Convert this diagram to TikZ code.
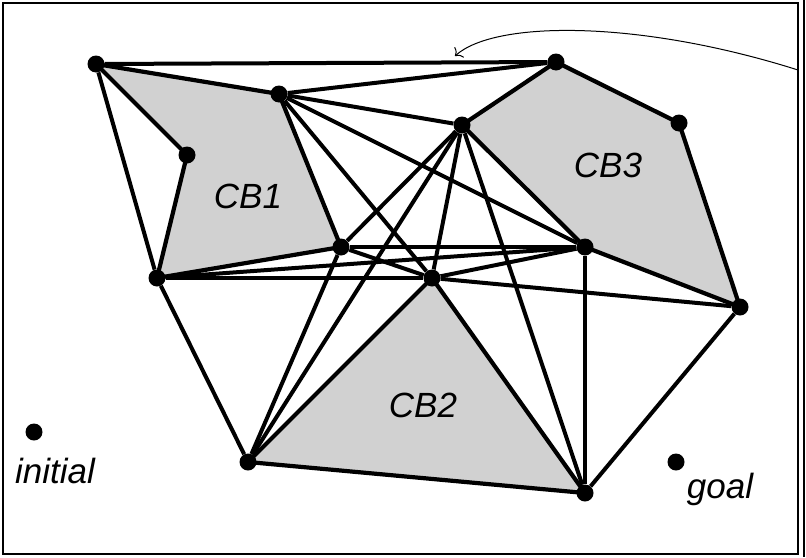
\documentclass[tikz,border=0pt]{standalone}
\usepackage{fontspec}
\setmainfont{Liberation Sans}
\usetikzlibrary{arrows.meta,backgrounds}
\tikzstyle{vertex} = [circle, fill=black, inner sep=0pt, minimum size=17pt]
\tikzstyle{obstacle} = [fill=black!18, draw=black, line width=4.2pt, line join=round]
\tikzstyle{link} = [line width=4pt]
\tikzstyle{cbtext} = [font=\fontsize{35}{42}\selectfont\itshape, anchor=base, inner sep=0pt]
\tikzstyle{frame} = [line width=1.4pt]
\tikzstyle{pointer} = [line width=1pt,-{To[length=6pt,width=14pt]}]
\begin{document}
\begin{tikzpicture}[x=1pt,y=-1pt]
\useasboundingbox (0,0) rectangle (806,557);
% CB1 corners
\node (p1a) [vertex] at (96,64) {};
\node (p1b) [vertex] at (279,94) {};
\node (p1c) [vertex] at (341,247) {};
\node (p1d) [vertex] at (157,278) {};
\node (p1e) [vertex] at (187,155) {};
% CB2 corners
\node (p2a) [vertex] at (432,278) {};
\node (p2b) [vertex] at (585,493) {};
\node (p2c) [vertex] at (248,462) {};
% CB3 corners
\node (p3a) [vertex] at (462,125) {};
\node (p3b) [vertex] at (556,62) {};
\node (p3c) [vertex] at (679,123) {};
\node (p3d) [vertex] at (740,307) {};
\node (p3e) [vertex] at (585,247) {};
\node (init) [vertex] at (34,432) {};
\node (goal) [vertex] at (676,462) {};

\node (tOne)   [cbtext] at (248,208) {CB1};
\node (tTwo)   [cbtext] at (423,417) {CB2};
\node (tThree) [cbtext] at (608,177) {CB3};
\node (tInit)  [cbtext] at (55,483) {initial};
\node (tGoal)  [cbtext] at (720,498) {goal};

\begin{scope}[on background layer]
\draw [obstacle] (p1a.center) -- (p1b.center) -- (p1c.center) -- (p1d.center) -- (p1e.center) -- cycle;
\draw [obstacle] (p2a.center) -- (p2b.center) -- (p2c.center) -- cycle;
\draw [obstacle] (p3a.center) -- (p3b.center) -- (p3c.center) -- (p3d.center) -- (p3e.center) -- cycle;

\draw [link] (p1a) -- (p3b);
\draw [link] (p1a) -- (p1d);
\draw [link] (p1b) -- (p3b);
\draw [link] (p1b) -- (p3a);
\draw [link] (p1b) -- (p3e);
\draw [link] (p1b) -- (p2a);
\draw [link] (p3a) -- (p1c);
\draw [link] (p3a) -- (p2c);
\draw [link] (p3a) -- (p2a);
\draw [link] (p3a) -- (p2b);
\draw [link] (p1c) -- (p3e);
\draw [link] (p1c) -- (p2a);
\draw [link] (p1c) -- (p2c);
\draw [link] (p1d) -- (p3e);
\draw [link] (p1d) -- (p2a);
\draw [link] (p1d) -- (p2c);
\draw [link] (p2a) -- (p3e);
\draw [link] (p2a) -- (p3d);
\draw [link] (p3e) -- (p2b);
\draw [link] (p3d) -- (p2b);
\end{scope}

\draw [frame] (3,3) rectangle (798,554);
\draw [frame] (804,0) -- (804,557);
\coordinate (from) at (798,70);
\coordinate (tip) at (455,56);
\draw [pointer] (from) .. controls (640,20) and (495,20) .. (tip);
\end{tikzpicture}
\end{document}
